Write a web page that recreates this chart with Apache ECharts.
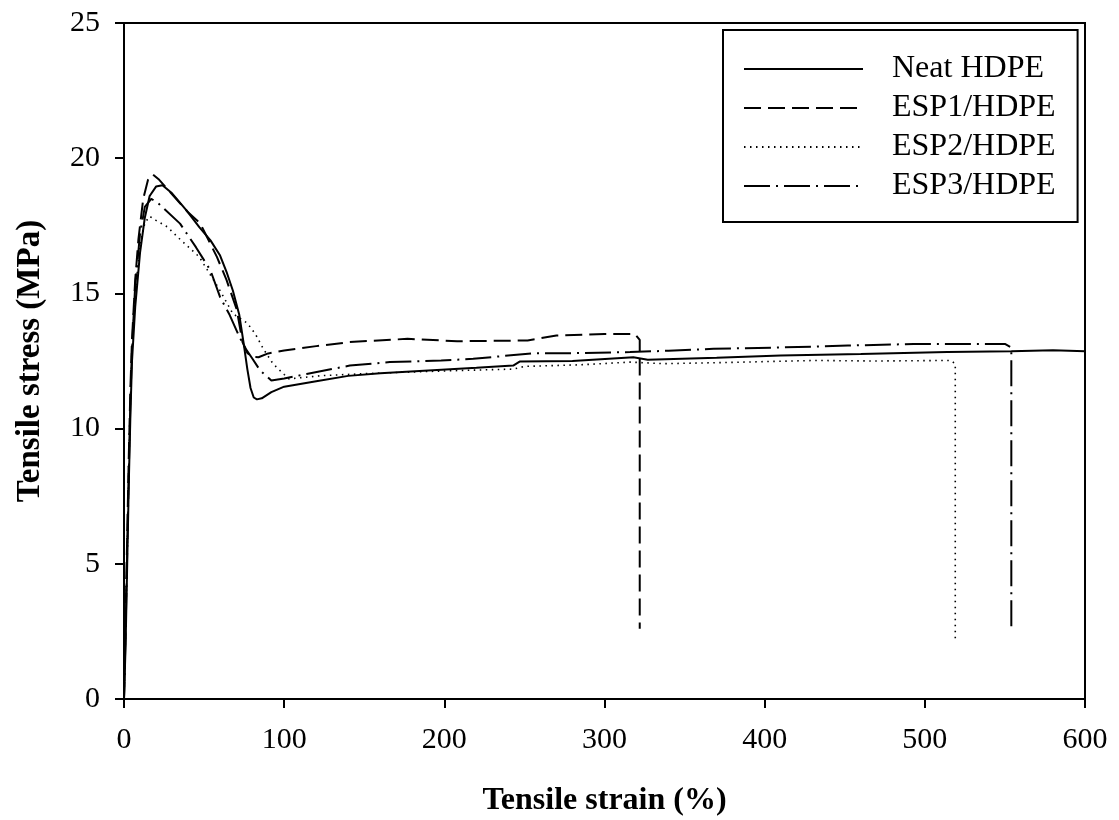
<!DOCTYPE html>
<html>
<head>
<meta charset="utf-8">
<script src="https://cdn.jsdelivr.net/npm/echarts@6/dist/echarts.min.js"></script>
<style>html,body{margin:0;padding:0;background:#fff;}#c{width:1119px;height:820px;}</style>
</head>
<body>
<div id="c"></div>
<script>
const seriesNames = ['Neat HDPE', 'ESP1/HDPE', 'ESP2/HDPE', 'ESP3/HDPE'];
const xTicks = [0, 100, 200, 300, 400, 500, 600];
const yTicks = [0, 5, 10, 15, 20, 25];

const neatHDPE = [[0,0],[1,2],[2,5],[3,8],[4,10.5],[5,12.5],[7,14.5],[10,16.5],[13,17.8],[16,18.6],[20,18.95],[24,19.0],[30,18.7],[39,18.07],[47,17.45],[54,16.96],[60,16.4],[64,15.8],[68,15.1],[72,14.2],[74.6,13.2],[77,12.2],[79,11.5],[81,11.15],[83,11.08],[86,11.12],[92,11.35],[100,11.55],[120,11.75],[140,11.95],[160,12.05],[190,12.15],[220,12.25],[243,12.33],[247,12.48],[280,12.5],[318,12.64],[327,12.55],[370,12.62],[410,12.7],[460,12.76],[514,12.83],[554,12.86],[580,12.9],[600,12.86]];
const esp1HDPE = [[0,0],[1,3],[2,6],[3,9],[4,11.5],[5,13.3],[7,15.5],[9,17],[12,18.5],[15,19.2],[18,19.4],[22,19.2],[31,18.6],[40,18.0],[47.5,17.6],[58,16.35],[64,15.5],[70.4,14.4],[74,13.2],[77,12.8],[80,12.65],[84,12.64],[90,12.78],[100,12.89],[120,13.05],[141,13.2],[177,13.32],[208,13.23],[252,13.26],[270,13.44],[300,13.5],[319,13.5],[322,13.28],[322,2.6]];
const esp2HDPE = [[0,0],[1,2.5],[2,5.5],[3,8.5],[4,11],[5,13],[7,15],[10,16.8],[13,17.6],[16,17.85],[20,17.7],[27,17.46],[35,17.0],[47,16.35],[60,15.1],[68,14.25],[77,13.9],[82,13.5],[87,12.95],[93,12.4],[100,12.0],[103,11.84],[110,11.88],[124,11.96],[150,12.03],[177,12.09],[210,12.15],[243,12.2],[250,12.3],[285,12.36],[316,12.46],[337,12.4],[380,12.45],[431,12.52],[470,12.5],[516,12.52],[519,12.4],[519,2.2]];
const esp3HDPE = [[0,0],[1,2.5],[2,5.5],[3,8.5],[4,11],[5,13],[7,15.3],[10,17.2],[13,18.2],[17,18.5],[22,18.3],[35,17.58],[45,16.7],[54,15.85],[60,14.86],[66,14.2],[72,13.4],[76,12.95],[80,12.6],[85,12.15],[92,11.78],[100,11.85],[114,12.02],[141,12.33],[166,12.46],[198,12.52],[218,12.58],[256,12.79],[281,12.79],[316,12.83],[340,12.88],[368,12.95],[410,13.0],[452,13.07],[493,13.13],[550,13.13],[554,13.0],[554,2.6]];

const seriesData = [neatHDPE, esp1HDPE, esp2HDPE, esp3HDPE];
const lineStyles = [
  {type: 'solid', width: 2},
  {type: [17, 7], width: 2},
  {type: [1.5, 4.5], width: 1.6},
  {type: [26, 6, 2, 6], width: 2}
];

const FONT = '"Liberation Serif", "Times New Roman", serif';
const chart = echarts.init(document.getElementById('c'), null, {renderer: 'canvas'});
chart.setOption({
  backgroundColor: '#fff',
  animation: false,
  grid: {left: 124, right: 34, top: 23, bottom: 121, show: true, borderColor: '#000', borderWidth: 2, backgroundColor: 'transparent', outerBoundsMode: 'none', containLabel: false},
  legend: {
    left: 723, top: 30,
    orient: 'vertical',
    itemWidth: 119, itemHeight: 14,
    itemGap: 5,
    padding: [22, 22, 19, 20],
    borderColor: '#000', borderWidth: 2,
    data: seriesNames,
    itemStyle: {color: 'rgba(0,0,0,0)', borderWidth: 0, opacity: 0},
    textStyle: {fontFamily: FONT, fontSize: 32, color: '#000', lineHeight: 34, padding: [0, 0, 0, 24]}
  },
  xAxis: {
    type: 'value', min: 0, max: 600, interval: 100,
    name: 'Tensile strain (%)', nameLocation: 'middle', nameGap: 86,
    nameTextStyle: {fontFamily: FONT, fontSize: 32, fontWeight: 'bold', color: '#000'},
    axisLine: {show: true, onZero: false, lineStyle: {color: '#000', width: 2}},
    axisTick: {show: true, inside: false, length: 9, lineStyle: {color: '#000', width: 2}},
    axisLabel: {fontFamily: FONT, fontSize: 30, color: '#000', margin: 26, formatter: v => xTicks.includes(v) ? String(v) : ''},
    splitLine: {show: false}
  },
  yAxis: {
    type: 'value', min: 0, max: 25, interval: 5,
    name: 'Tensile stress (MPa)', nameLocation: 'middle', nameGap: 77,
    nameTextStyle: {fontFamily: FONT, fontSize: 33, fontWeight: 'bold', color: '#000'},
    axisLine: {show: true, onZero: false, lineStyle: {color: '#000', width: 2}},
    axisTick: {show: true, inside: false, length: 9, lineStyle: {color: '#000', width: 2}},
    axisLabel: {fontFamily: FONT, fontSize: 30, color: '#000', margin: 24, formatter: v => yTicks.includes(v) ? String(v) : ''},
    splitLine: {show: false}
  },
  series: seriesNames.map((n, i) => ({
    name: n, type: 'line', data: seriesData[i], showSymbol: false, symbol: 'none',
    smooth: false, clip: true,
    lineStyle: Object.assign({color: '#000'}, lineStyles[i]),
    itemStyle: {color: '#000'}
  }))
});
</script>
</body>
</html>
